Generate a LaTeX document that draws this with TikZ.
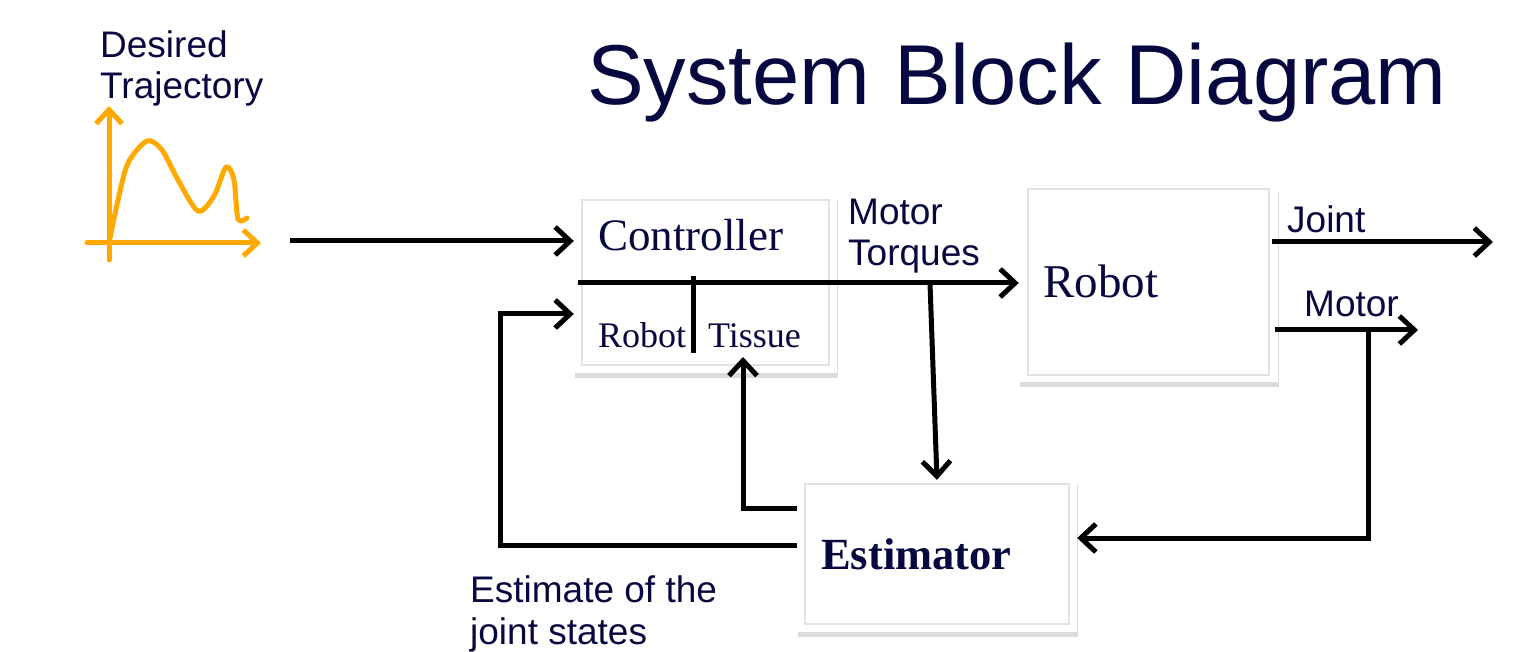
\documentclass[tikz,border=0pt]{standalone}
\usepackage{fontspec}
\setmainfont{Liberation Serif}
\newfontfamily\arialfont{Liberation Sans}
\usetikzlibrary{arrows.meta,shadows}
\definecolor{navy}{RGB}{8,8,64}
\definecolor{traj}{RGB}{255,168,0}
\definecolor{framegray}{RGB}{226,226,226}
\tikzset{
  conn/.style={line width=5pt, black},
  arr/.style={conn, -{Straight Barb[length=15pt,width=28pt]}},
  oline/.style={line width=5pt, traj, line cap=round, line join=round},
  oarr/.style={oline, -{Straight Barb[length=14pt,width=26pt]}},
  blockbox/.style={fill=white, draw=none, inner sep=0pt,
    drop shadow={shadow xshift=1pt, shadow yshift=-5pt, opacity=0.14, fill=black}},
  innerframe/.style={draw=framegray, line width=1.5pt},
  sanslabel/.style={font=\arialfont\fontsize{37}{42}\selectfont, text=navy, inner sep=0pt, anchor=base west},
  titlelabel/.style={font=\arialfont\fontsize{85}{100}\selectfont, text=navy, inner sep=0pt, anchor=base west},
  serifsmall/.style={font=\fontsize{36}{42}\selectfont, text=navy, inner sep=0pt, anchor=base west},
  serifbig/.style={font=\fontsize{47}{54}\selectfont, text=navy, inner sep=0pt, anchor=base west},
}
\begin{document}
\begin{tikzpicture}[x=1pt,y=-1pt]
\useasboundingbox (0,0) rectangle (1532,652);

% title
\node[titlelabel] (title) at (587,105) {System Block Diagram};

% desired trajectory
\node[sanslabel] (des1) at (100,58) {Desired};
\node[sanslabel] (des2) at (100,99) {Trajectory};
\coordinate (yb) at (109,260);
\coordinate (yt) at (109,106);
\coordinate (xl) at (87,243);
\coordinate (xr) at (261,243);
\draw[oarr] (yb) -- (yt);
\draw[oarr] (xl) -- (xr);
\draw[oline] plot[smooth, tension=0.5] coordinates {(110,238) (118,200) (128,163) (147,141) (162,150) (178,180) (198,211) (214,196) (226,167) (234,180) (238,219) (247,218)};

% blocks
\node[blockbox, minimum width=263pt, minimum height=178pt] (ctrl) at (705.5,284) {};
\draw[innerframe] ([shift={(8pt,-5pt)}]ctrl.north west) rectangle ([shift={(-8pt,8pt)}]ctrl.south east);
\node[blockbox, minimum width=259pt, minimum height=195pt] (robot) at (1148.5,284.5) {};
\draw[innerframe] ([shift={(9pt,-2pt)}]robot.north west) rectangle ([shift={(-9pt,7pt)}]robot.south east);
\node[blockbox, minimum width=280pt, minimum height=152pt] (est) at (937,556) {};
\draw[innerframe] ([shift={(8pt,-4pt)}]est.north west) rectangle ([shift={(-8pt,8pt)}]est.south east);

% block texts
\node[serifsmall, font=\fontsize{45}{54}\selectfont] (ctrltxt) at (598,251) {Controller};
\node[serifsmall] (rbsmall) at (598,348) {Robot};
\node[serifsmall] (tissue) at (708,348) {Tissue};
\node[serifbig] (robottxt) at (1043,298) {Robot};
\node[serifsmall, font=\bfseries\fontsize{44.5}{54}\selectfont] (esttxt) at (821,569) {Estimator};

% labels
\node[sanslabel] (mt1) at (848,225) {Motor};
\node[sanslabel] (mt2) at (848,266) {Torques};
\node[sanslabel] (joint) at (1287,233) {Joint};
\node[sanslabel] (motor) at (1304,317) {Motor};
\node[sanslabel] (es1) at (470,602) {Estimate of the};
\node[sanslabel] (es2) at (470,644) {joint states};

% connectors
\coordinate (in0) at (290,241);
\draw[arr] (in0) -- (ctrl.west |- in0);

\coordinate (tqs) at (578,283);
\draw[arr] (tqs) -- (robot.west |- tqs);
\coordinate (tickT) at (693,276);
\coordinate (tickB) at (693,353);
\draw[conn] (tickT) -- (tickB);

\coordinate (tq) at (930,283);
\draw[arr] (tq) -- (est.north);

\coordinate (fbL) at (500,545);
\coordinate (fbT) at (500,314);
\draw[arr] (est.west |- fbL) -- (fbL) -- (fbT) -- (ctrl.west |- fbT);

\coordinate (tsC) at (743,508);
\coordinate (tsTip) at (743,357);
\draw[arr] (est.west |- tsC) -- (tsC) -- (tsTip);

\coordinate (jEnd) at (1493,242);
\draw[arr] ([xshift=-6pt]robot.east |- jEnd) -- (jEnd);
\coordinate (mEnd) at (1418,330);
\draw[arr] ([xshift=-3pt]robot.east |- mEnd) -- (mEnd);
\coordinate (mJ) at (1368,330);
\coordinate (mC) at (1368,538);
\draw[arr] (mJ) -- (mC) -- (est.east |- mC);
\end{tikzpicture}
\end{document}
